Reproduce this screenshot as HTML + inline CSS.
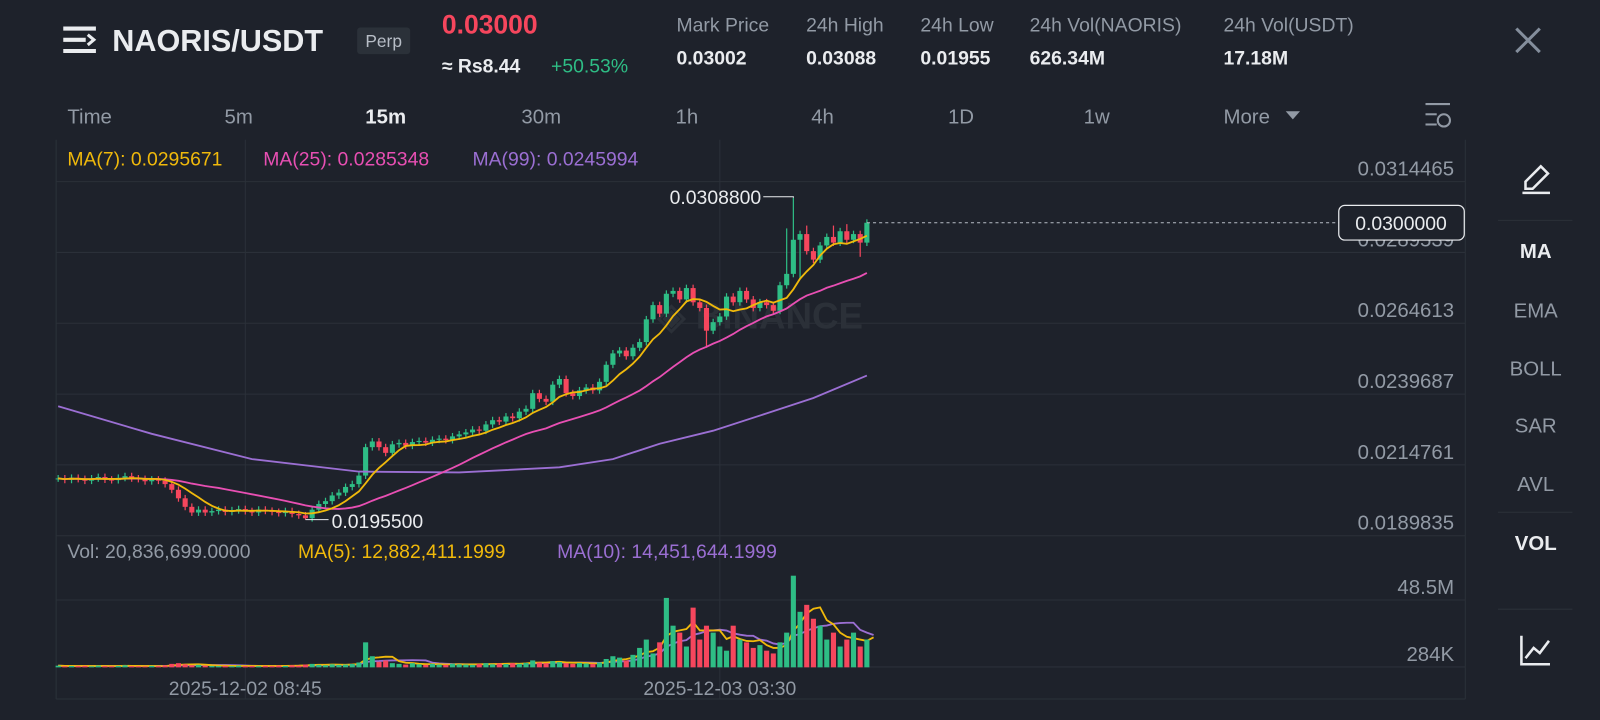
<!DOCTYPE html>
<html><head><meta charset="utf-8"><style>
html,body{margin:0;padding:0;background:#1e222b;width:1600px;height:720px;overflow:hidden}
svg{display:block}
text{font-family:"Liberation Sans",sans-serif}
</style></head><body>
<svg id="c" width="1600" height="720" xmlns="http://www.w3.org/2000/svg">
<rect width="1600" height="720" fill="#1e222b"/>
<g transform="scale(1.0204)">
<g>
 <g stroke="#eaecef" stroke-width="4">
  <line x1="62" y1="28" x2="94" y2="28"/><line x1="62" y1="39" x2="84" y2="39"/><line x1="62" y1="50" x2="94" y2="50"/>
  <polyline points="86,34 92,39 86,44" fill="none" stroke-width="3"/></g>
 <text x="110" y="50" font-size="30" font-weight="bold" fill="#eaecef">NAORIS/USDT</text>
 <rect x="350" y="27" width="52" height="26" rx="3" fill="#2b3139"/>
 <text x="376" y="46" font-size="17" fill="#b7bdc6" text-anchor="middle">Perp</text>
 <text x="433" y="33" font-size="26" font-weight="bold" fill="#f6465d">0.03000</text>
 <text x="433" y="71" font-size="19" font-weight="bold" fill="#eaecef">≈ Rs8.44</text>
 <text x="540" y="71" font-size="19" fill="#2ebd85">+50.53%</text>
 <g font-size="19" fill="#929aa5">
  <text x="663" y="31">Mark Price</text><text x="790" y="31">24h High</text><text x="902" y="31">24h Low</text><text x="1009" y="31">24h Vol(NAORIS)</text><text x="1199" y="31">24h Vol(USDT)</text></g>
 <g font-size="19" font-weight="bold" fill="#eaecef">
  <text x="663" y="63">0.03002</text><text x="790" y="63">0.03088</text><text x="902" y="63">0.01955</text><text x="1009" y="63">626.34M</text><text x="1199" y="63">17.18M</text></g>
 <g stroke="#848e9c" stroke-width="3"><line x1="1486" y1="28" x2="1509" y2="51"/><line x1="1509" y1="28" x2="1486" y2="51"/></g>
</g>
<g font-size="20" fill="#929aa5">
 <text x="66" y="121">Time</text>
 <text x="220" y="121">5m</text>
 <text x="358" y="121" fill="#eaecef" font-weight="bold">15m</text>
 <text x="511" y="121">30m</text>
 <text x="662" y="121">1h</text>
 <text x="795" y="121">4h</text>
 <text x="929" y="121">1D</text>
 <text x="1062" y="121">1w</text>
 <text x="1199" y="121">More</text>
 <polygon points="1260,109 1274,109 1267,117" fill="#929aa5"/>
 <g stroke="#929aa5" stroke-width="2" fill="none">
  <line x1="1397" y1="102" x2="1421" y2="102"/><line x1="1397" y1="112" x2="1408" y2="112"/><line x1="1397" y1="122" x2="1408" y2="122"/><circle cx="1415" cy="118" r="6"/></g>
</g>
<g stroke="#2b3139" stroke-width="1">
 <line x1="55" y1="137" x2="55" y2="685"/><line x1="1436" y1="137" x2="1436" y2="685"/>
 <line x1="55" y1="685" x2="1436" y2="685"/>
</g>
<g id="grid"></g>
<text x="745" y="322" font-size="36" font-weight="bold" fill="#2b3038" text-anchor="middle">◈ BINANCE</text>
<g id="candles"></g>
<g id="mas"></g>
<g id="vols"></g>
<g id="axis"></g>
<g font-size="19">
 <text x="66" y="162" fill="#f0b90b">MA(7): 0.0295671</text>
 <text x="258" y="162" fill="#e84fb3">MA(25): 0.0285348</text>
 <text x="463" y="162" fill="#9b6fd3">MA(99): 0.0245994</text></g>
<g font-size="19">
 <text x="66" y="547" fill="#929aa5">Vol: 20,836,699.0000</text>
 <text x="292" y="547" fill="#f0b90b">MA(5): 12,882,411.1999</text>
 <text x="546" y="547" fill="#9b6fd3">MA(10): 14,451,644.1999</text></g>
<g>
 <g stroke="#eaecef" stroke-width="2.5" fill="none">
  <path d="M1495,185 L1495,178 L1510,163 L1517,170 L1502,185 Z"/><line x1="1492" y1="189" x2="1519" y2="189"/></g>
 <g stroke="#2b3139"><line x1="1468" y1="216" x2="1541" y2="216"/><line x1="1468" y1="502" x2="1541" y2="502"/><line x1="1468" y1="597" x2="1541" y2="597"/></g>
 <g font-size="20" text-anchor="middle" fill="#929aa5">
  <text x="1505" y="253" fill="#eaecef" font-weight="bold">MA</text>
  <text x="1505" y="311">EMA</text>
  <text x="1505" y="368">BOLL</text>
  <text x="1505" y="424">SAR</text>
  <text x="1505" y="481">AVL</text>
  <text x="1505" y="539" fill="#eaecef" font-weight="bold">VOL</text></g>
 <g stroke="#eaecef" stroke-width="2.5" fill="none">
  <polyline points="1491,623 1491,651 1519,651"/><polyline points="1495,645 1503,635 1509,640 1518,628"/></g>
</g>
</g>
</svg>
<script>
const closes=[0.02100,0.02095,0.02102,0.02098,0.02092,0.02100,0.02105,0.02096,0.02094,0.02102,0.02108,0.02100,0.02098,0.02090,0.02096,0.02092,
0.02080,0.02060,0.02030,0.02000,0.01980,0.01990,0.01980,
0.01985,0.01990,0.01982,0.01988,0.01992,0.01985,0.01980,0.01990,0.01986,0.01982,0.01978,0.01985,0.01975,0.01970,0.01960,
0.01990,0.02010,0.02020,0.02040,0.02050,0.02070,
0.02080,0.02110,0.02210,0.02230,0.02210,0.02190,0.02220,
0.02225,0.02215,0.02228,0.02232,0.02226,0.02236,0.02240,0.02235,0.02248,0.02255,
0.02262,0.02272,0.02268,0.02290,0.02305,0.02300,0.02318,0.02312,0.02335,0.02345,
0.02400,0.02380,0.02370,0.02430,0.02450,
0.02400,0.02390,0.02410,0.02420,0.02410,
0.02440,0.02500,0.02540,0.02550,0.02530,0.02560,
0.02580,0.02660,0.02710,0.02680,0.02750,
0.02760,0.02730,0.02770,0.02720,0.02700,
0.02620,0.02650,0.02670,0.02740,0.02720,
0.02760,0.02730,0.02700,0.02720,0.02710,0.02690,0.02780,
0.02820,0.02940,0.02960,0.02900,0.02870,
0.02920,0.02950,0.02930,0.02970,0.02940,0.02960,0.02930,0.03000];
const highOverrides={110:0.03088,109:0.02980,112:0.02990,116:0.02990,118:0.02995};
const lowOverrides={37:0.01955,97:0.02560,111:0.02800,120:0.02880};
const ma99Idx=[0,14,29,45,60,75,83,90,98,106,113,121];
const ma99Vals=[0.02354,0.02257,0.02168,0.02124,0.02121,0.02139,0.02168,0.02222,0.02268,0.02329,0.02383,0.02462];
const volumes=[1.2,0.8,1.0,0.9,1.1,0.7,1.3,0.9,0.8,1.0,1.5,0.9,0.8,0.7,1.1,0.9,1.4,2.5,3.0,2.2,1.5,1.8,1.2,1.0,0.9,1.1,0.8,1.2,0.9,1.0,0.8,1.1,0.9,1.3,1.0,1.5,1.2,2.0,2.5,1.8,1.5,2.2,1.8,2.0,2.4,3.5,18,8,4,5,3,2.5,2.0,3.0,2.2,1.8,2.5,2.0,1.8,2.6,2.2,2.0,1.8,2.5,3.0,2.2,2.8,2.4,3.0,2.6,3.2,5,3.5,3.0,4.5,3.8,3.0,2.5,3.2,2.8,2.5,3.5,6,8,7,5,9,14,20,10,18,50,30,25,15,43,20,30,25,15,12,30,20,18,14,16,12,10,18,25,66,40,45,35,30,20,25,15,20,25,15,20,28];
const priceTicks=[0.0314465,0.0289539,0.0264613,0.0239687,0.0214761,0.0189835];
const volTickLabels=["48.5M","284K"];const volTickVals=[48.5,0.284];
const timeLabels=["2025-12-02 08:45","2025-12-03 03:30"];const timeIdx=[28,99];

const NS="http://www.w3.org/2000/svg";
const pTop=0.0314465,pBot=0.0189835,yTop=178,yBot=525;
const py=p=>yTop+(pTop-p)/(pTop-pBot)*(yBot-yTop);
const x0=57,step=6.55;const ix=i=>x0+i*step;
const vBase=654,vy=v=>vBase-v*(66/48.5);
function mk(tag,attrs,parent){const e=document.createElementNS(NS,tag);for(const k in attrs)e.setAttribute(k,attrs[k]);parent.appendChild(e);return e;}
const G=document.getElementById('grid'),C=document.getElementById('candles'),M=document.getElementById('mas'),V=document.getElementById('vols'),A=document.getElementById('axis');
priceTicks.forEach(p=>{const l=mk('line',{x1:55,x2:1436,y1:py(p),y2:py(p),stroke:'#2b3039'},G);


const t=mk('text',{x:1425,y:py(p)-6,'font-size':20,fill:'#929aa5','text-anchor':'end'},A);t.textContent=p.toFixed(7);

});
volTickVals.forEach((v,k)=>{const l=mk('line',{x1:55,x2:1436,y1:vy(v),y2:vy(v),stroke:'#2b3039'},G);


const t=mk('text',{x:1425,y:vy(v)-6,'font-size':20,fill:'#929aa5','text-anchor':'end'},A);t.textContent=volTickLabels[k];

});
timeIdx.forEach((i,k)=>{const l=mk('line',{x1:ix(i),x2:ix(i),y1:137,y2:685,stroke:'#2b3039'},G);


const t=mk('text',{x:ix(i),y:681,'font-size':19,fill:'#929aa5','text-anchor':'middle'},A);t.textContent=timeLabels[k];

});
const up='#2ebd85',dn='#f6465d';
closes.forEach((c,i)=>{const o=i?closes[i-1]:c;const isUp=c>=o;const col=isUp?up:dn;
const h=highOverrides[i]!==undefined?highOverrides[i]:Math.max(o,c)+0.00012;
const lo=lowOverrides[i]!==undefined?lowOverrides[i]:Math.min(o,c)-0.00012;
const x=ix(i);
const w=mk('line',{x1:x,x2:x,y1:py(h),y2:py(lo),stroke:col,'stroke-width':1.2},C);


const y1=py(Math.max(o,c)),y2=py(Math.min(o,c));
const b=mk('rect',{x:x-2.5,y:y1,width:5,height:Math.max(1,y2-y1),fill:col},C);


const vb=mk('rect',{x:x-2.5,y:vy(volumes[i]),width:5,height:vBase-vy(volumes[i]),fill:col},V);

});
function ma(arr,n){return arr.map((_,i)=>{let s=0,k=0;for(let j=Math.max(0,i-n+1);j<=i;j++){s+=arr[j];k++;}return s/k;});}
function line(pts,col,name){const p=mk('polyline',{points:pts.map(q=>q.join(',')).join(' '),fill:'none',stroke:col,'stroke-width':1.8},M);

}
line(ma99Idx.map((i,k)=>[ix(i),py(ma99Vals[k])]),'#9b6fd3','ma99-line');
line(ma(closes,25).map((v,i)=>[ix(i),py(v)]),'#e84fb3','ma25-line');
line(ma(closes,7).map((v,i)=>[ix(i),py(v)]),'#f0b90b','ma7-line');
line(ma(volumes,10).map((v,i)=>[ix(i),vy(v)]),'#9b6fd3','vol-ma10-line');
line(ma(volumes,5).map((v,i)=>[ix(i),vy(v)]),'#f0b90b','vol-ma5-line');
let hi=0;closes.forEach((_,i)=>{if(highOverrides[i]!==undefined&&highOverrides[i]>(highOverrides[hi]||0))hi=i;});
const hv=highOverrides[hi];
const hl=mk('polyline',{points:`${ix(hi)},${py(hv)} ${ix(hi)},${py(hv)-1} 748,${py(hv)-1}`,fill:'none',stroke:'#eaecef'},A);


const ht=mk('text',{x:746,y:py(hv)+6,'font-size':19,fill:'#eaecef','text-anchor':'end'},A);ht.textContent=hv.toFixed(7);


const lv=lowOverrides[37];
const ll=mk('line',{x1:ix(37),x2:322,y1:py(lv),y2:py(lv),stroke:'#eaecef'},A);


const lt=mk('text',{x:325,y:py(lv)+8,'font-size':19,fill:'#eaecef'},A);lt.textContent=lv.toFixed(7);


const last=closes[closes.length-1];
const dl=mk('line',{x1:ix(closes.length-1),x2:1312,y1:py(last),y2:py(last),stroke:'#b7bdc6','stroke-dasharray':'3,3'},A);


const bx=mk('rect',{x:1312,y:py(last)-17,width:123,height:34,rx:6,fill:'#1e222b',stroke:'#eaecef','stroke-width':1.2},A);


const bt=mk('text',{x:1373,y:py(last)+7,'font-size':19,fill:'#eaecef','text-anchor':'middle'},A);bt.textContent=last.toFixed(7);


</script>
</body></html>
